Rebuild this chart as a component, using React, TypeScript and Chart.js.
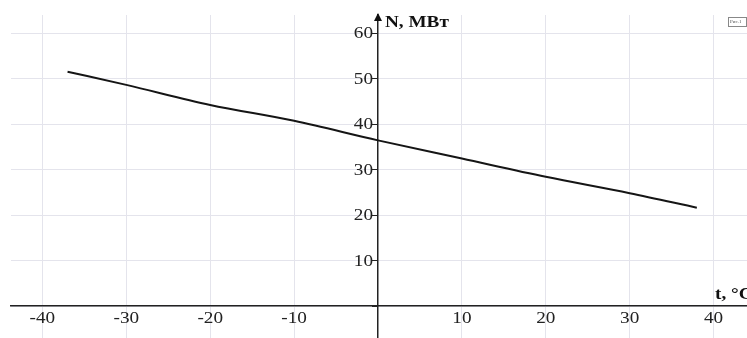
import React, { useEffect, useRef } from "react";
import { Chart, registerables } from "chart.js";

Chart.register(...registerables);

const temperatures = [-37, -30, -20, -10, 0, 10, 20, 30, 38];
const powerMW = [51.5, 48.6, 44.2, 40.7, 36.4, 32.4, 28.4, 24.8, 21.6];
const xTickValues = [-40, -30, -20, -10, 0, 10, 20, 30, 40];
const xTickLabels = ["-40", "-30", "-20", "-10", "", "10", "20", "30", "40"];
const yTickValues = [0, 10, 20, 30, 40, 50, 60];
const yTickLabels = ["", "10", "20", "30", "40", "50", "60"];
const xAxisTitle = "t, °C";
const yAxisTitle = "N, МВт";
const figureTag = "Рис.1";

const SERIF = '"Liberation Serif", "Times New Roman", serif';
const STRETCH = 1.2;

function stretchedText(ctx: any, text: string, x: number, y: number, align: string) {
  ctx.save();
  ctx.translate(x, y);
  ctx.scale(STRETCH, 1);
  ctx.textAlign = align;
  ctx.fillText(text, 0, 0);
  ctx.restore();
}

const overlayPlugin = {
  id: "overlay",
  afterDraw(chart: any) {
    const { ctx, scales, chartArea } = chart;
    const x0 = scales.x.getPixelForValue(0);
    const y0 = scales.y.getPixelForValue(0);
    ctx.save();
    // arrow on the vertical axis
    ctx.fillStyle = "#111";
    ctx.beginPath();
    ctx.moveTo(x0, chartArea.top - 2);
    ctx.lineTo(x0 - 4, chartArea.top + 6);
    ctx.lineTo(x0 + 4, chartArea.top + 6);
    ctx.closePath();
    ctx.fill();
    // tick labels
    ctx.fillStyle = "#222";
    ctx.font = "16px " + SERIF;
    ctx.textBaseline = "middle";
    scales.x.ticks.forEach((t: any, i: number) => {
      const lbl = xTickLabels[i];
      if (lbl) stretchedText(ctx, lbl, scales.x.getPixelForValue(t.value), y0 + 13, "center");
    });
    scales.y.ticks.forEach((t: any, i: number) => {
      const lbl = yTickLabels[i];
      if (lbl) stretchedText(ctx, lbl, x0 - 5, scales.y.getPixelForValue(t.value) + 1, "right");
    });
    // axis titles
    ctx.fillStyle = "#111";
    ctx.font = "bold 16px " + SERIF;
    stretchedText(ctx, yAxisTitle, x0 + 7, chartArea.top + 8, "left");
    stretchedText(ctx, xAxisTitle, chartArea.right - 32, y0 - 11, "left");
    // small figure tag box
    ctx.strokeStyle = "#888";
    ctx.lineWidth = 1;
    ctx.strokeRect(728.5, 17.5, 18, 9);
    ctx.font = "5px " + SERIF;
    ctx.fillStyle = "#555";
    ctx.textAlign = "left";
    ctx.fillText(figureTag, 730, 22);
    ctx.restore();
  },
};

export default function App() {
  const ref = useRef<HTMLCanvasElement | null>(null);
  useEffect(() => {
    if (!ref.current) return;
    const chart = new Chart(ref.current, {
      type: "line",
      data: {
        labels: temperatures,
        datasets: [
          {
            data: temperatures.map((t, i) => ({ x: t, y: powerMW[i] })),
            borderColor: "#151515",
            borderWidth: 2,
            pointRadius: 0,
            cubicInterpolationMode: "monotone",
            fill: false,
          },
        ],
      },
      options: {
        animation: false,
        responsive: false,
        devicePixelRatio: 1,
        layout: { padding: { left: 11, top: 15, right: 0, bottom: 0 } },
        plugins: { legend: { display: false }, tooltip: { enabled: false } },
        scales: {
          x: {
            type: "linear",
            position: { y: 0 },
            min: -43.74,
            max: 43.98,
            afterBuildTicks: (s: any) => {
              s.ticks = xTickValues.map((v) => ({ value: v }));
            },
            afterFit: (s: any) => {
              s.paddingLeft = 0;
              s.paddingRight = 0;
              s.paddingTop = 0;
              s.paddingBottom = 0;
            },
            ticks: { display: false, autoSkip: false, maxRotation: 0 },
            grid: { color: "#e4e4ec", lineWidth: 1, drawTicks: false },
            border: { color: "#222", width: 1.5 },
          },
          y: {
            type: "linear",
            position: { x: 0 },
            min: -7.03,
            max: 63.96,
            afterBuildTicks: (s: any) => {
              s.ticks = yTickValues.map((v) => ({ value: v }));
            },
            afterFit: (s: any) => {
              s.paddingLeft = 0;
              s.paddingRight = 0;
              s.paddingTop = 0;
              s.paddingBottom = 0;
            },
            ticks: { display: false, autoSkip: false },
            grid: {
              color: "#e4e4ec",
              lineWidth: 1,
              drawTicks: true,
              tickLength: 5,
              tickColor: "#222",
            },
            border: { color: "#222", width: 1.5 },
          },
        },
      },
      plugins: [overlayPlugin],
    } as any);
    return () => chart.destroy();
  }, []);
  return (
    <div style={{ position: "fixed", left: 0, top: 0, width: 747, height: 338, background: "#fff" }}>
      <canvas ref={ref} width={747} height={338} style={{ display: "block" }} />
    </div>
  );
}
